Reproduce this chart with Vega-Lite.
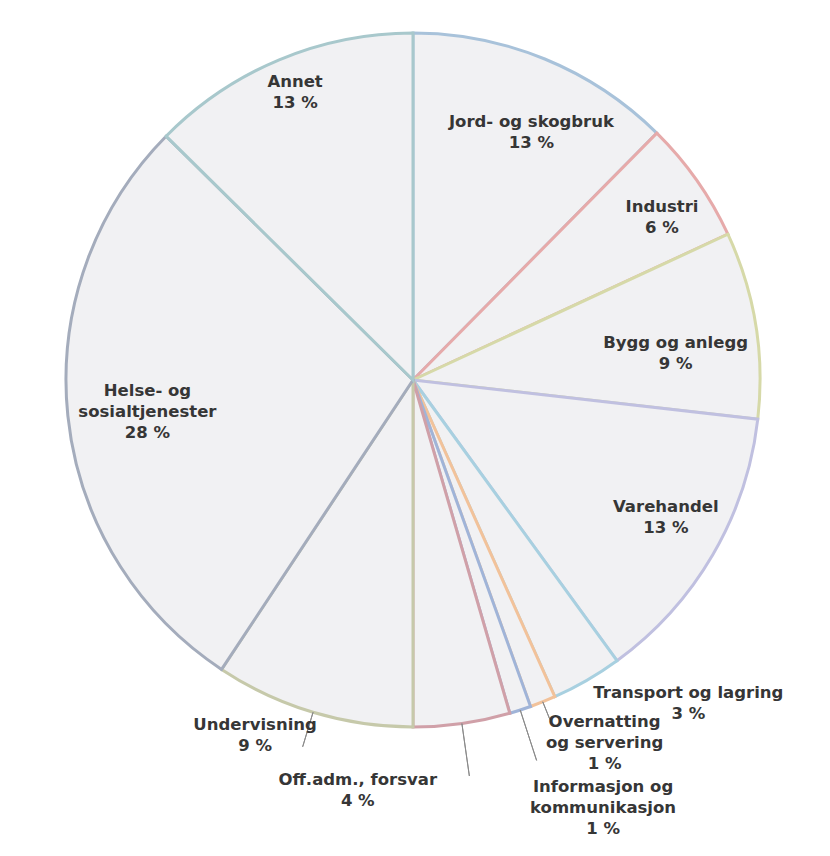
{
  "$schema": "https://vega.github.io/schema/vega-lite/v6.json",
  "width": 826,
  "height": 760,
  "autosize": "none",
  "padding": {"left": 0, "top": 0, "right": 4, "bottom": 96},
  "background": "white",
  "view": {"stroke": null},
  "config": {"text": {"font": "DejaVu Sans", "fontWeight": "bold", "fontSize": 16.5, "letterSpacing": 0.3, "lineHeight": 21, "lineBreak": "\n", "fill": "#363636", "align": "center", "baseline": "middle"}},
  "data": {"values": [
    {"i": 1, "cat": "Jord- og skogbruk", "value": 12.4, "label": "Jord- og skogbruk\n13 %"},
    {"i": 2, "cat": "Industri", "value": 5.7, "label": "Industri\n6 %"},
    {"i": 3, "cat": "Bygg og anlegg", "value": 8.7, "label": "Bygg og anlegg\n9 %"},
    {"i": 4, "cat": "Varehandel", "value": 13.2, "label": "Varehandel\n13 %"},
    {"i": 5, "cat": "Transport og lagring", "value": 3.3, "label": "Transport og lagring\n3 %"},
    {"i": 6, "cat": "Overnatting og servering", "value": 1.2, "label": "Overnatting\nog servering\n1 %"},
    {"i": 7, "cat": "Informasjon og kommunikasjon", "value": 1.0, "label": "Informasjon og\nkommunikasjon\n1 %"},
    {"i": 8, "cat": "Off.adm., forsvar", "value": 4.5, "label": "Off.adm., forsvar\n4 %"},
    {"i": 9, "cat": "Undervisning", "value": 9.3, "label": "Undervisning\n9 %"},
    {"i": 10, "cat": "Helse- og sosialtjenester", "value": 28.1, "label": "Helse- og\nsosialtjenester\n28 %"},
    {"i": 11, "cat": "Annet", "value": 12.6, "label": "Annet\n13 %"}
  ]},
  "encoding": {
    "theta": {"field": "value", "type": "quantitative", "stack": true},
    "order": {"field": "i", "type": "quantitative"},
    "detail": {"field": "cat", "type": "nominal"}
  },
  "layer": [
    {
      "mark": {"type": "arc", "radius": 347, "fill": "#f1f1f3", "strokeWidth": 3},
      "encoding": {
        "stroke": {"field": "cat", "type": "nominal", "legend": null,
          "scale": {"domain": ["Jord- og skogbruk", "Industri", "Bygg og anlegg", "Varehandel", "Transport og lagring", "Overnatting og servering", "Informasjon og kommunikasjon", "Off.adm., forsvar", "Undervisning", "Helse- og sosialtjenester", "Annet"],
            "range": ["#a8c2da", "#e6aaaa", "#d6d9a8", "#c0c0e0", "#a8d0e0", "#f2c29a", "#a0b4d8", "#d0a0a8", "#c6c9aa", "#a4acbc", "#a8c8cc"]}}
      }
    },
    {
      "mark": {"type": "arc", "radius": 400, "radius2": 347, "padAngle": 3, "fill": null, "stroke": "#8a8a8a", "strokeWidth": 1},
      "encoding": {"strokeOpacity": {"condition": {"test": "datum.cat === 'Informasjon og kommunikasjon' || datum.cat === 'Off.adm., forsvar'", "value": 1}, "value": 0}}
    },
    {
      "mark": {"type": "arc", "radius": 366, "radius2": 347, "padAngle": 3, "fill": null, "stroke": "#8a8a8a", "strokeWidth": 1},
      "encoding": {"strokeOpacity": {"condition": {"test": "datum.cat === 'Overnatting og servering'", "value": 1}, "value": 0}}
    },
    {
      "mark": {"type": "arc", "radius": 383, "radius2": 347, "padAngle": 3, "fill": null, "stroke": "#8a8a8a", "strokeWidth": 1},
      "encoding": {"strokeOpacity": {"condition": {"test": "datum.cat === 'Undervisning'", "value": 1}, "value": 0}}
    },
    {"mark": {"type": "text", "radius": 275, "dx": 14, "dy": -4},
     "encoding": {"text": {"condition": {"test": "datum.cat === 'Jord- og skogbruk'", "field": "label"}, "value": ""}}},
    {"mark": {"type": "text", "radius": 297, "dx": 6, "dy": -2},
     "encoding": {"text": {"condition": {"test": "datum.cat === 'Industri'", "field": "label"}, "value": ""}}},
    {"mark": {"type": "text", "radius": 264, "dx": 2, "dy": 5},
     "encoding": {"text": {"condition": {"test": "datum.cat === 'Bygg og anlegg'", "field": "label"}, "value": ""}}},
    {"mark": {"type": "text", "radius": 288, "dx": 4, "dy": -18},
     "encoding": {"text": {"condition": {"test": "datum.cat === 'Varehandel'", "field": "label"}, "value": ""}}},
    {"mark": {"type": "text", "radius": 380, "dx": 85, "dy": -16},
     "encoding": {"text": {"condition": {"test": "datum.cat === 'Transport og lagring'", "field": "label"}, "value": ""}}},
    {"mark": {"type": "text", "radius": 400, "dx": 42, "dy": -29},
     "encoding": {"text": {"condition": {"test": "datum.cat === 'Overnatting og servering'", "field": "label"}, "value": ""}}},
    {"mark": {"type": "text", "radius": 450, "dx": 51, "dy": -21},
     "encoding": {"text": {"condition": {"test": "datum.cat === 'Informasjon og kommunikasjon'", "field": "label"}, "value": ""}}},
    {"mark": {"type": "text", "radius": 410, "dx": -113, "dy": -6},
     "encoding": {"text": {"condition": {"test": "datum.cat === 'Off.adm., forsvar'", "field": "label"}, "value": ""}}},
    {"mark": {"type": "text", "radius": 385, "dx": -47, "dy": -24},
     "encoding": {"text": {"condition": {"test": "datum.cat === 'Undervisning'", "field": "label"}, "value": ""}}},
    {"mark": {"type": "text", "radius": 267, "dx": 0, "dy": -17},
     "encoding": {"text": {"condition": {"test": "datum.cat === 'Helse- og sosialtjenester'", "field": "label"}, "value": ""}}},
    {"mark": {"type": "text", "radius": 311, "dx": 2, "dy": -11},
     "encoding": {"text": {"condition": {"test": "datum.cat === 'Annet'", "field": "label"}, "value": ""}}}
  ]
}
